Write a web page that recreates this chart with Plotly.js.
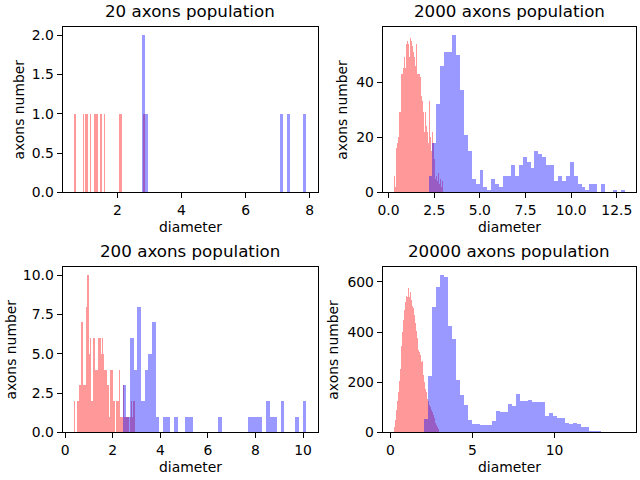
<!DOCTYPE html>
<html>
<head>
<meta charset="utf-8">
<script src="https://cdn.plot.ly/plotly-3.0.1.min.js"></script>
<style>html,body{margin:0;padding:0;background:#fff;}</style>
</head>
<body>
<div id="chart" style="width:640px;height:480px;"></div>
<script>
// Each histogram: 50 equal-width bins spanning [lo, hi], with the count of axons per bin.

// 20 axons
const red20Range = [0.65, 2.85];
const red20Counts = [1,0,0,0,0,0,1,0,1,1, 0,1,0,0,1,1,1,0,1,1, 0,1,0,0,0,0,0,0,0,0, 0,0,1,1,0,0,0,0,0,0, 0,0,0,0,0,0,0,0,0,1];
const blue20Range = [2.76, 7.90];
const blue20Counts = [2,1,0,0,0,0,0,0,0,0, 0,0,0,0,0,0,0,0,0,0, 0,0,0,0,0,0,0,0,0,0, 0,0,0,0,0,0,0,0,0,0, 0,0,1,0,1,0,0,0,0,1];

// 2000 axons
const red2000Range = [0.31, 3.0];
const red2000Counts = [6,2,16,18,20,29,29,43,43,45, 49,45,54,55,54,49,56,55,53,51, 49,46,54,43,43,43,42,35,33,29, 22,29,24,22,18,33,20,15,22,18, 12,8,5,6,4,7,3,5,2,4];
const blue2000Range = [2.19, 12.93];
const blue2000Counts = [6,18,32,46,51,51,57,50,37,21, 15,5,3,8,2,1,5,3,2,6, 6,10,6,10,13,11,9,15,14,13, 10,10,4,6,4,6,11,6,3,2, 1,3,3,0,3,0,0,1,0,1];

// 200 axons
const red200Range = [0.38, 2.92];
const red200Counts = [2,0,2,2,3,3,7,3,3,3, 8,10,5,6,2,2,6,4,4,4, 6,6,5,6,5,4,4,3,3,1, 4,4,2,2,0,2,2,4,1,1, 3,1,1,1,1,0,1,2,1,2];
const blue200Range = [2.42, 10.14];
const blue200Counts = [3,1,6,4,8,2,4,5,7,1, 0,1,1,0,1,0,0,1,1,0, 0,0,0,0,0,0,1,0,0,0, 0,0,0,0,1,1,1,1,0,2, 1,1,0,2,0,0,0,1,0,2];

// 20000 axons
const red20000Range = [0.24, 2.97];
const red20000Counts = [20,50,90,125,160,205,255,300,345,400, 450,490,520,545,540,575,610,540,560,530, 505,495,470,435,405,375,350,330,320,310, 280,285,230,200,175,160,145,135,125,110, 100,90,80,70,58,48,38,30,22,12];
const blue20000Range = [2.07, 14.27];
const blue20000Counts = [54,225,499,580,627,620,425,373,209,150, 110,50,34,34,30,30,30,46,86,82, 82,114,106,154,126,126,130,122,122,122, 66,78,66,58,58,38,34,38,34,22, 22,6,6,6,2,2,2,2,2,2];

const panelTitles = ['20 axons population', '2000 axons population', '200 axons population', '20000 axons population'];
const xLabel = 'diameter';
const yLabel = 'axons number';
const xTickStep = [2, 2.5, 2, 5];
const xTickFormat = ['d', '.1f', 'd', 'd'];
const yTickStep = [0.5, 20, 2.5, 200];
const yTickFormat = ['.1f', 'd', '.1f', 'd'];

const panels = [
  {red: [red20Range, red20Counts], blue: [blue20Range, blue20Counts]},
  {red: [red2000Range, red2000Counts], blue: [blue2000Range, blue2000Counts]},
  {red: [red200Range, red200Counts], blue: [blue200Range, blue200Counts]},
  {red: [red20000Range, red20000Counts], blue: [blue20000Range, blue20000Counts]}
];

const RED = 'rgba(255,0,0,0.4)';
const BLUE = 'rgba(0,0,255,0.4)';
const FONT = 'DejaVu Sans, sans-serif';

function histTrace(range, counts, color, axIdx) {
  const lo = range[0], hi = range[1];
  const w = (hi - lo) / counts.length;
  const xs = counts.map((_, i) => lo + (i + 0.5) * w);
  const suffix = axIdx === 1 ? '' : String(axIdx);
  return {
    type: 'bar', x: xs, y: counts, width: w,
    marker: {color: color, line: {width: 0}},
    xaxis: 'x' + suffix, yaxis: 'y' + suffix,
    hoverinfo: 'skip', showlegend: false
  };
}

const xDomains = [[0.0977, 0.497], [0.598, 0.994], [0.0977, 0.497], [0.598, 0.994]];
const yDomains = [[0.599, 0.943], [0.599, 0.943], [0.099, 0.443], [0.099, 0.443]];
// horizontal offset of the y label from the left spine (depends on tick label width)
const yLabelShift = [-44, -41, -52, -50];

const traces = [];
const layout = {
  width: 640, height: 480,
  margin: {l: 0, r: 0, t: 0, b: 0},
  paper_bgcolor: '#fff', plot_bgcolor: '#fff',
  barmode: 'overlay', bargap: 0,
  font: {family: FONT, size: 13.9, color: '#000'},
  annotations: []
};

panels.forEach((p, k) => {
  const idx = k + 1;
  traces.push(histTrace(p.red[0], p.red[1], RED, idx));
  traces.push(histTrace(p.blue[0], p.blue[1], BLUE, idx));

  const lo = Math.min(p.red[0][0], p.blue[0][0]);
  const hi = Math.max(p.red[0][1], p.blue[0][1]);
  const pad = 0.05 * (hi - lo);
  const ymax = Math.max(...p.red[1], ...p.blue[1]) * 1.05;
  const suffix = idx === 1 ? '' : String(idx);

  const common = {
    showline: true, mirror: true, linecolor: '#000', linewidth: 1,
    ticks: 'outside', ticklen: 5, tickwidth: 1, tickcolor: '#000',
    showgrid: false, zeroline: false,
    tickfont: {family: FONT, size: 13.9, color: '#000'}
  };
  layout['xaxis' + suffix] = Object.assign({}, common, {
    domain: xDomains[k], anchor: 'y' + suffix,
    range: [lo - pad, hi + pad], dtick: xTickStep[k], tick0: 0, tickformat: xTickFormat[k]
  });
  layout['yaxis' + suffix] = Object.assign({}, common, {
    domain: yDomains[k], anchor: 'x' + suffix,
    range: [0, ymax], dtick: yTickStep[k], tick0: 0, tickformat: yTickFormat[k]
  });
  const xref = 'x' + suffix + ' domain', yref = 'y' + suffix + ' domain';
  layout.annotations.push({
    text: panelTitles[k], showarrow: false, xref: xref, yref: yref,
    x: 0.5, y: 1, xanchor: 'center', yanchor: 'bottom', yshift: 4,
    font: {family: FONT, size: 16.7, color: '#000'}
  });
  layout.annotations.push({
    text: xLabel, showarrow: false, xref: xref, yref: yref,
    x: 0.5, y: 0, xanchor: 'center', yanchor: 'middle', yshift: -35,
    font: {family: FONT, size: 13.9, color: '#000'}
  });
  layout.annotations.push({
    text: yLabel, showarrow: false, xref: xref, yref: yref, textangle: -90,
    x: 0, y: 0.5, xanchor: 'center', yanchor: 'middle', xshift: yLabelShift[k],
    font: {family: FONT, size: 13.9, color: '#000'}
  });
});

Plotly.newPlot('chart', traces, layout, {staticPlot: true, displayModeBar: false});
</script>
</body>
</html>
